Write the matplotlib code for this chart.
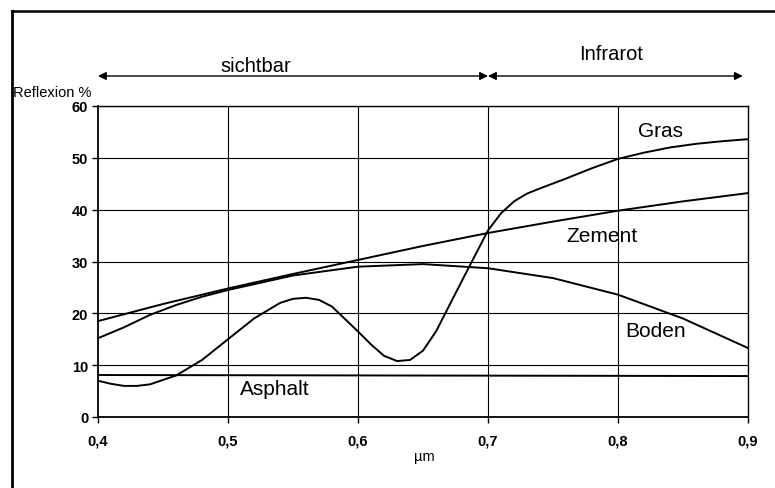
import numpy as np
import matplotlib
matplotlib.use("Agg")
import matplotlib.pyplot as plt
from matplotlib.lines import Line2D
from matplotlib.transforms import blended_transform_factory

plt.rcParams['font.family'] = ['Liberation Sans', 'DejaVu Sans']

# Data (wavelength in µm, reflection in %)
gras_x = [0.40, 0.41, 0.42, 0.43, 0.44, 0.46, 0.48, 0.50, 0.52, 0.54, 0.55, 0.56, 0.57, 0.58,
          0.60, 0.61, 0.62, 0.63, 0.64, 0.65, 0.66, 0.68, 0.70, 0.71, 0.72, 0.73, 0.74,
          0.76, 0.78, 0.80, 0.82, 0.84, 0.86, 0.88, 0.90]
gras_y = [7.0, 6.4, 6.0, 6.0, 6.3, 8.0, 11.0, 15.0, 19.0, 22.0, 22.8, 23.0, 22.6, 21.3,
          16.5, 14.0, 11.8, 10.8, 11.0, 12.8, 16.5, 26.3, 36.0, 39.3, 41.6, 43.1, 44.1,
          46.0, 48.0, 49.8, 51.0, 52.0, 52.7, 53.2, 53.6]

zement_x = [0.40, 0.45, 0.50, 0.55, 0.60, 0.65, 0.70, 0.75, 0.80, 0.85, 0.90]
zement_y = [18.5, 21.8, 24.8, 27.6, 30.3, 33.0, 35.5, 37.7, 39.8, 41.6, 43.2]

boden_x = [0.40, 0.42, 0.44, 0.46, 0.48, 0.50, 0.55, 0.60, 0.65, 0.70, 0.75, 0.80, 0.85, 0.90]
boden_y = [15.2, 17.3, 19.7, 21.6, 23.2, 24.5, 27.3, 29.0, 29.5, 28.7, 26.8, 23.6, 19.0, 13.3]

asphalt_x = [0.40, 0.90]
asphalt_y = [8.1, 7.9]

xticks = [0.4, 0.5, 0.6, 0.7, 0.8, 0.9]
xticklabels = ["0,4", "0,5", "0,6", "0,7", "0,8", "0,9"]
yticks = [0, 10, 20, 30, 40, 50, 60]

fig = plt.figure(figsize=(7.75, 4.89), dpi=100)
ax = fig.add_axes([98/775, 1-418/489, (748-98)/775, (418-107)/489])

for v in yticks[1:]:
    ax.axhline(v, color='black', lw=0.8, zorder=1)
for v in xticks[1:-1]:
    ax.axvline(v, color='black', lw=0.8, zorder=1)

lw = 1.4
ax.plot(gras_x, gras_y, color='black', lw=lw, zorder=3)
ax.plot(zement_x, zement_y, color='black', lw=lw, zorder=3)
ax.plot(boden_x, boden_y, color='black', lw=lw, zorder=3)
ax.plot(asphalt_x, asphalt_y, color='black', lw=lw, zorder=3)

ax.set_xlim(0.4, 0.9)
ax.set_ylim(0, 60)
ax.set_xticks(xticks)
ax.set_xticklabels(xticklabels)
ax.set_yticks(yticks)
for s in ax.spines.values():
    s.set_color('black')
    s.set_linewidth(1.0)
ax.spines['left'].set_linewidth(1.3)
ax.spines['bottom'].set_linewidth(1.3)
ax.tick_params(axis='both', direction='out', length=4, width=1.0, labelsize=10.5, colors='black')
ax.tick_params(axis='x', pad=8)
ax.tick_params(axis='y', pad=3)
for lab in ax.get_xticklabels() + ax.get_yticklabels():
    lab.set_fontweight('bold')

# Curve labels
fs = 15
ax.text(0.8327, 54.2, "Gras", fontsize=fs, ha='center', va='baseline')
ax.text(0.7873, 34.0, "Zement", fontsize=fs, ha='center', va='baseline')
ax.text(0.8292, 15.6, "Boden", fontsize=fs, ha='center', va='baseline')
ax.text(0.5362, 4.4, "Asphalt", fontsize=fs, ha='center', va='baseline')

# Spectral range arrows
tr = blended_transform_factory(ax.transData, ax.transAxes)
ya = (418-77)/311
ax.annotate("", xy=(0.4, ya), xytext=(0.7, ya), xycoords=tr, textcoords=tr,
            arrowprops=dict(arrowstyle='<|-|>', color='black', lw=1.0,
                            mutation_scale=12, shrinkA=0, shrinkB=0), annotation_clip=False)
ax.annotate("", xy=(0.7, ya), xytext=(0.896, ya), xycoords=tr, textcoords=tr,
            arrowprops=dict(arrowstyle='<|-|>', color='black', lw=1.0,
                            mutation_scale=12, shrinkA=0, shrinkB=0), annotation_clip=False)
ax.text(0.5215, (418-72)/311, "sichtbar", transform=tr, fontsize=14.5, ha='center', va='baseline')
ax.text(0.795, (418-60)/311, "Infrarot", transform=tr, fontsize=14.5, ha='center', va='baseline')

fig.text(13/775, 1-97/489, "Reflexion %", fontsize=10.5, ha='left', va='baseline')
fig.text(424/775, 1-457/489, "µm", fontsize=10.5, ha='center', va='center')

# Frame border (left and top visible)
fig.add_artist(Line2D([12/775, 12/775], [0, 1-12/489], transform=fig.transFigure,
                      color='black', lw=2.0))
fig.add_artist(Line2D([12/775, 1], [1-12/489, 1-12/489], transform=fig.transFigure,
                      color='black', lw=1.8))

fig.savefig("out.png", dpi=100)
